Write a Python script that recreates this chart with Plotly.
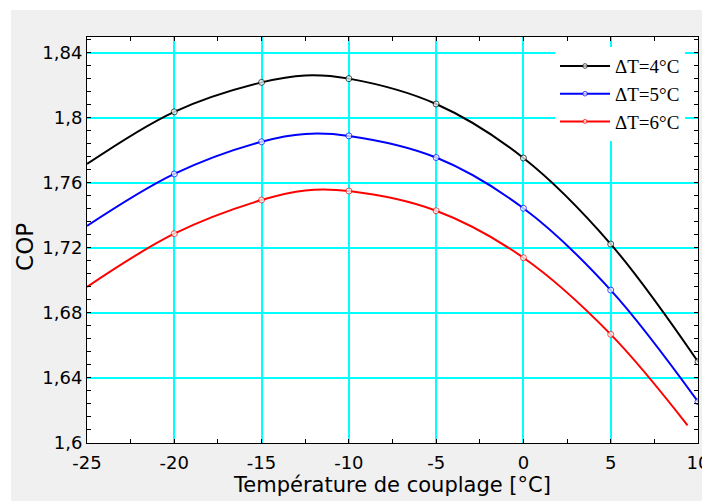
import plotly.graph_objects as go

x_vals = [-25, -20, -15, -12.5, -10, -5, 0, 5, 10]
cop_dt4 = [1.7715, 1.8036, 1.8217, 1.8260, 1.8240, 1.8084, 1.7752, 1.7223, 1.6500]
cop_dt5 = [1.7334, 1.7654, 1.7852, 1.7900, 1.7888, 1.7755, 1.7443, 1.6940, 1.6254]
x_red = [-25, -20, -15, -12.5, -10, -5, 0, 5, 9.4]
cop_dt6 = [1.6960, 1.7287, 1.7494, 1.7553, 1.7549, 1.7428, 1.7139, 1.6668, 1.6109]
marker_sizes = [0, 6, 6, 0, 6, 6, 6, 6, 6]
marker_sizes_red = [0, 6, 6, 0, 6, 6, 6, 6, 0]
names = ["ΔT=4°C", "ΔT=5°C", "ΔT=6°C"]
colors = ["#000000", "#0000ff", "#ff0000"]
y_ticks = [1.6, 1.64, 1.68, 1.72, 1.76, 1.8, 1.84]
y_ticktext = ["1,6", "1,64", "1,68", "1,72", "1,76", "1,8", "1,84"]
x_ticks = [-25, -20, -15, -10, -5, 0, 5, 10]

fig = go.Figure()
series = [(x_vals, cop_dt4, marker_sizes), (x_vals, cop_dt5, marker_sizes), (x_red, cop_dt6, marker_sizes_red)]
for i, ((xs, ys, ms), name, col) in enumerate(zip(series, names, colors)):
    fig.add_trace(go.Scatter(
        x=xs, y=ys, name=name, mode="lines+markers",
        line=dict(color=col, width=2, shape="spline", smoothing=1.0),
        marker=dict(size=ms, color="white", symbol="circle", line=dict(color=col, width=1)),
        legendgroup=f"g{i}",
    ))

fig.update_layout(
    width=702, height=501,
    margin=dict(l=87, r=4, t=37, b=58),
    paper_bgcolor="#f0f0f0",
    plot_bgcolor="white",
    separators=",.",
    font=dict(family="DejaVu Sans, Tahoma, sans-serif", color="black", size=18),
    showlegend=True,
    legend=dict(
        x=0.766, y=0.975, xanchor="left", yanchor="top",
        bgcolor="white", borderwidth=0,
        font=dict(family="Liberation Serif, Times New Roman, serif", size=19, color="black"),
        traceorder="grouped", tracegroupgap=0,
        itemwidth=50,
    ),
    shapes=[
        dict(type="rect", xref="paper", yref="paper", x0=-0.2, x1=1.1, y0=1.0665, y1=1.2,
             fillcolor="white", line=dict(width=0), layer="below"),
        dict(type="rect", xref="paper", yref="paper", x0=-0.2, x1=-0.1244, y0=-0.3, y1=1.2,
             fillcolor="white", line=dict(width=0), layer="below"),
    ],
    annotations=[
        dict(text="COP", xref="paper", yref="paper", x=-0.1015, y=0.483,
             xanchor="center", yanchor="middle", textangle=-90, showarrow=False,
             font=dict(size=23)),
    ],
)

fig.update_xaxes(
    range=[-25, 10], tickvals=x_ticks, ticktext=[str(v) for v in x_ticks],
    ticklabeloverflow="allow", automargin=False, ticklabelstandoff=3,
    showgrid=True, gridcolor="#00ffff", gridwidth=1.5,
    showline=True, linecolor="black", linewidth=1, mirror="ticks",
    ticks="inside", ticklen=4, tickcolor="black",
    minor=dict(dtick=2.5, ticks="inside", ticklen=4, tickcolor="black", showgrid=False),
    zeroline=False,
    title=dict(text="Température de couplage [°C]", font=dict(size=21), standoff=1),
)
fig.update_yaxes(
    range=[1.6, 1.8496], tickvals=y_ticks, ticktext=y_ticktext,
    ticklabeloverflow="allow", automargin=False,
    showgrid=True, gridcolor="#00ffff", gridwidth=1.5,
    showline=True, linecolor="black", linewidth=1, mirror="ticks",
    ticks="inside", ticklen=4, tickcolor="black",
    minor=dict(tick0=1.6, dtick=0.008, ticks="inside", ticklen=4, tickcolor="black", showgrid=False),
    zeroline=False,
)

fig.write_html("out.html")
